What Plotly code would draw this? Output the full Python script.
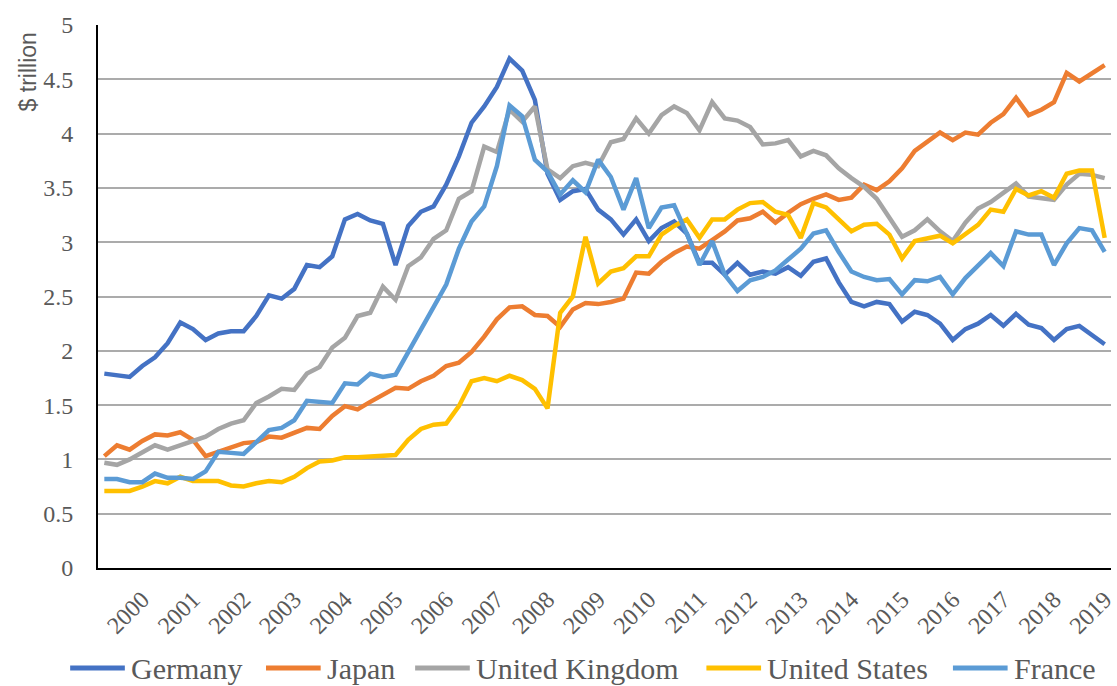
import plotly.graph_objects as go

years = ["2000", "2001", "2002", "2003", "2004", "2005", "2006", "2007", "2008", "2009",
         "2010", "2011", "2012", "2013", "2014", "2015", "2016", "2017", "2018", "2019"]
quarters = [f"{y} Q{q}" for y in years for q in (1, 2, 3, 4)]
tick_quarters = [f"{y} Q4" for y in years]

germany = [1.79, 1.77, 1.76, 1.86, 1.94, 2.07, 2.26, 2.20, 2.10, 2.16,
           2.18, 2.18, 2.32, 2.51, 2.48, 2.57, 2.79, 2.77, 2.87, 3.21,
           3.26, 3.20, 3.17, 2.79, 3.15, 3.28, 3.33, 3.53, 3.79, 4.10,
           4.25, 4.43, 4.69, 4.58, 4.31, 3.63, 3.39, 3.47, 3.49, 3.30,
           3.21, 3.07, 3.21, 3.01, 3.13, 3.19, 3.08, 2.81, 2.81, 2.70,
           2.81, 2.70, 2.73, 2.71, 2.77, 2.69, 2.82, 2.85, 2.63, 2.45,
           2.41, 2.45, 2.43, 2.27, 2.36, 2.33, 2.25, 2.10, 2.20, 2.25,
           2.33, 2.23, 2.34, 2.24, 2.21, 2.10, 2.20, 2.23, 2.15, 2.06]
japan = [1.03, 1.13, 1.09, 1.17, 1.23, 1.22, 1.25, 1.18, 1.03, 1.07,
         1.10, 1.15, 1.16, 1.21, 1.20, 1.24, 1.29, 1.28, 1.40, 1.49,
         1.46, 1.53, 1.60, 1.66, 1.65, 1.72, 1.77, 1.86, 1.89, 1.99,
         2.13, 2.29, 2.40, 2.41, 2.33, 2.32, 2.22, 2.38, 2.44, 2.43,
         2.45, 2.48, 2.72, 2.71, 2.82, 2.90, 2.96, 2.94, 3.02, 3.10,
         3.20, 3.22, 3.28, 3.18, 3.27, 3.35, 3.40, 3.44, 3.39, 3.41,
         3.53, 3.48, 3.56, 3.68, 3.84, 3.93, 4.01, 3.94, 4.01, 3.99,
         4.10, 4.18, 4.33, 4.17, 4.22, 4.29, 4.56, 4.48, 4.56, 4.63]
uk = [0.97, 0.95, 1.00, 1.06, 1.13, 1.09, 1.13, 1.16, 1.21, 1.28,
      1.33, 1.36, 1.52, 1.58, 1.65, 1.64, 1.79, 1.85, 2.03, 2.12,
      2.32, 2.35, 2.59, 2.47, 2.78, 2.86, 3.03, 3.11, 3.40, 3.47,
      3.88, 3.83, 4.22, 4.11, 4.25, 3.67, 3.59, 3.70, 3.73, 3.70,
      3.92, 3.95, 4.14, 4.00, 4.17, 4.25, 4.19, 4.03, 4.29, 4.14,
      4.12, 4.06, 3.90, 3.91, 3.94, 3.79, 3.84, 3.80, 3.68, 3.59,
      3.51, 3.40, 3.22, 3.05, 3.11, 3.21, 3.10, 3.01, 3.18, 3.31,
      3.37, 3.45, 3.54, 3.42, 3.41, 3.39, 3.53, 3.63, 3.62, 3.59]
us = [0.71, 0.71, 0.71, 0.75, 0.80, 0.78, 0.84, 0.80, 0.80, 0.80,
      0.76, 0.75, 0.78, 0.80, 0.79, 0.84, 0.92, 0.98, 0.99, 1.02,
      1.02, 1.03, 1.04, 1.04, 1.18, 1.28, 1.32, 1.33, 1.49, 1.72,
      1.75, 1.72, 1.77, 1.73, 1.65, 1.47, 2.35, 2.50, 3.05, 2.62,
      2.73, 2.76, 2.87, 2.87, 3.07, 3.15, 3.21, 3.04, 3.21, 3.21,
      3.30, 3.36, 3.37, 3.28, 3.25, 3.04, 3.36, 3.32, 3.21, 3.10,
      3.16, 3.17, 3.07, 2.85, 3.01, 3.03, 3.06, 2.99, 3.08, 3.16,
      3.30, 3.28, 3.49, 3.43, 3.47, 3.41, 3.63, 3.66, 3.66, 3.04]
france = [0.82, 0.82, 0.79, 0.79, 0.87, 0.83, 0.83, 0.82, 0.89, 1.07,
          1.06, 1.05, 1.16, 1.27, 1.29, 1.36, 1.54, 1.53, 1.52, 1.70,
          1.69, 1.79, 1.76, 1.78, 1.99, 2.19, 2.41, 2.61, 2.94, 3.19,
          3.33, 3.70, 4.26, 4.16, 3.76, 3.65, 3.44, 3.57, 3.46, 3.76,
          3.60, 3.30, 3.59, 3.13, 3.32, 3.34, 3.08, 2.79, 3.01, 2.70,
          2.55, 2.65, 2.68, 2.74, 2.84, 2.94, 3.08, 3.11, 2.91, 2.73,
          2.68, 2.65, 2.66, 2.52, 2.65, 2.64, 2.68, 2.52, 2.67, 2.79,
          2.90, 2.78, 3.10, 3.07, 3.07, 2.79, 2.99, 3.13, 3.11, 2.91]

names = ["Germany", "Japan", "United Kingdom", "United States", "France"]
series = [germany, japan, uk, us, france]
colors = ["#4472C4", "#ED7D31", "#A5A5A5", "#FFC000", "#5B9BD5"]

W, H = 1117, 686
L, R, T, B = 98, 0, 25, 118
PW, PH = W - L - R, H - T - B

def px_x(p):
    return (p - L) / PW

def px_y(p):
    return (H - B - p) / PH

fig = go.Figure()
for name, vals, color in zip(names, series, colors):
    fig.add_trace(go.Scatter(x=quarters, y=vals, mode="lines", name=name,
                             line=dict(color=color, width=4.5),
                             showlegend=False))

grey_txt = "#595959"
serif = "Liberation Serif, Times New Roman, serif"

fig.update_layout(
    width=W, height=H,
    margin=dict(l=L, r=R, t=T, b=B),
    plot_bgcolor="white", paper_bgcolor="white",
    showlegend=False,
)
fig.update_xaxes(
    type="category", range=[-0.5, 79.5],
    tickmode="array", tickvals=tick_quarters, ticktext=years,
    tickangle=-45, tickfont=dict(family=serif, size=24, color=grey_txt),
    showgrid=False, showline=True, linecolor="black", linewidth=2,
    ticks="outside", ticklen=6, tickcolor="rgba(0,0,0,0)",
)
fig.update_yaxes(
    range=[0, 5], tick0=0, dtick=0.5,
    showgrid=True, gridcolor="#ABABAB", gridwidth=1.5,
    showline=True, linecolor="black", linewidth=2, zeroline=False,
    tickfont=dict(family=serif, size=24, color=grey_txt),
    ticks="outside", ticklen=18, tickcolor="rgba(0,0,0,0)",
)

annotations = [dict(text="$ trillion", xref="paper", yref="paper",
                    x=px_x(28), y=px_y(72), textangle=-90, showarrow=False,
                    xanchor="center", yanchor="middle",
                    font=dict(family="Liberation Sans, Arial, sans-serif", size=23, color=grey_txt))]

# custom legend (line sample + label)
legend_line_start = [70, 267, 417, 710, 958]
legend_line_len = 55
legend_y = 668
shapes = []
for name, color, x0 in zip(names, colors, legend_line_start):
    shapes.append(dict(type="line", xref="paper", yref="paper",
                       x0=px_x(x0), x1=px_x(x0 + legend_line_len),
                       y0=px_y(legend_y), y1=px_y(legend_y),
                       line=dict(color=color, width=5)))
    annotations.append(dict(text=name, xref="paper", yref="paper",
                            x=px_x(x0 + legend_line_len + 4), y=px_y(legend_y),
                            xanchor="left", yanchor="middle", showarrow=False,
                            font=dict(family=serif, size=30, color=grey_txt)))

fig.update_layout(annotations=annotations, shapes=shapes)

fig.write_html("out.html",
               config={"displayModeBar": False},
               post_script="document.body.style.margin='0';document.body.style.overflow='hidden';")
